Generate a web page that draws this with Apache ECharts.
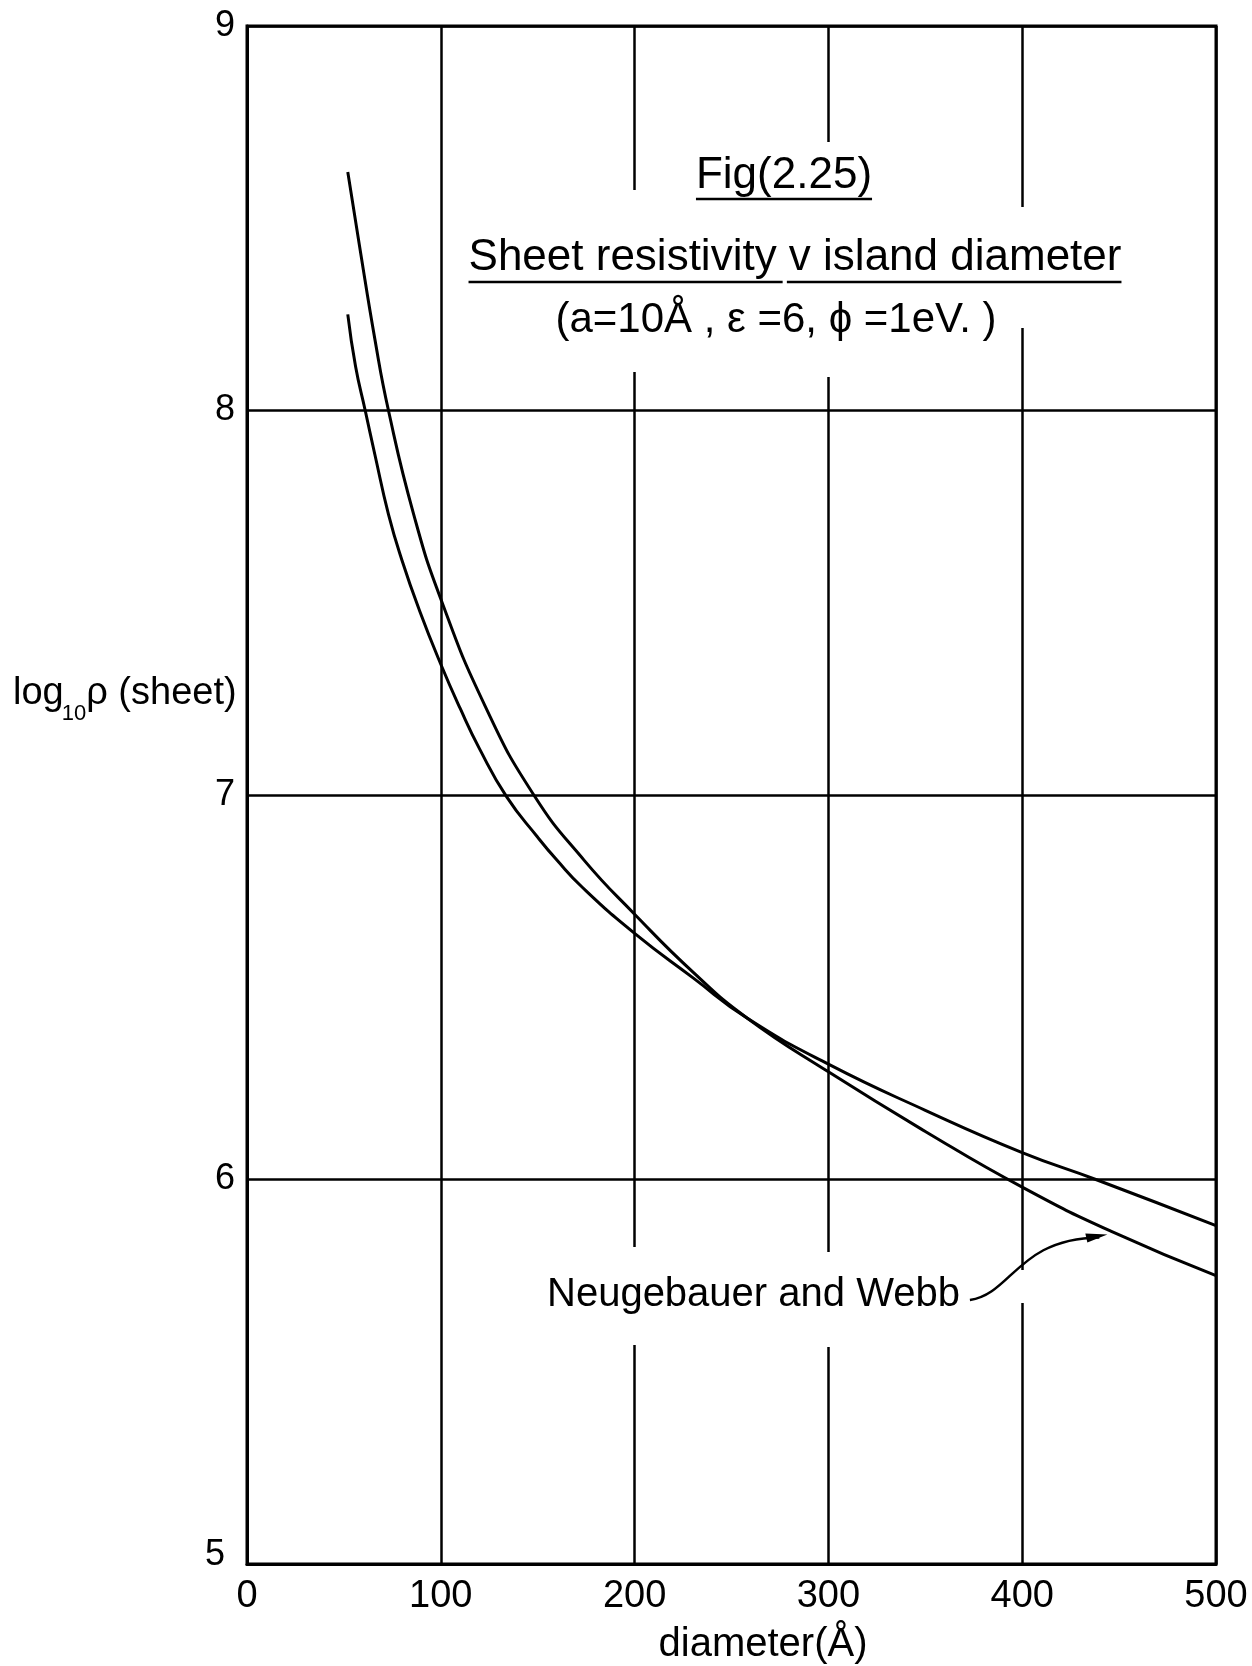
<!DOCTYPE html>
<html>
<head>
<meta charset="utf-8">
<title>Sheet resistivity v island diameter</title>
<script src="https://cdn.jsdelivr.net/npm/echarts@6/dist/echarts.min.js"></script>
<style>
  html, body { margin: 0; padding: 0; background: #fff; }
  #chart { width: 1252px; height: 1666px; }
</style>
</head>
<body>
<div id="chart"></div>
<script>
// Axis ticks
const xTicks = [0, 100, 200, 300, 400, 500];
const yTicks = [5, 6, 7, 8, 9];

// Neugebauer and Webb: diameter (Å) and log10 of sheet resistivity
const nwDiameter = [52, 58, 66, 73, 86, 100, 123, 148, 174, 200, 230, 258, 300, 350, 400, 446, 500];
const nwLogRho   = [8.62, 8.43, 8.185, 8.0, 7.73, 7.51, 7.23, 7.0, 6.83, 6.69, 6.54, 6.42, 6.28, 6.125, 5.98, 5.865, 5.75];

// Present calculation: diameter (Å) and log10 of sheet resistivity
const calcDiameter = [52, 56, 61, 66, 73, 80, 89, 100, 110, 120, 134, 150, 160, 173, 200, 230, 258, 300, 350, 400, 438, 500];
const calcLogRho   = [8.25, 8.115, 8.0, 7.885, 7.73, 7.61, 7.48, 7.34, 7.225, 7.12, 6.995, 6.89, 6.83, 6.76, 6.64, 6.525, 6.42, 6.30, 6.18, 6.07, 6.0, 5.88];

const ink = '#000';
const digitFont = '"Liberation Sans", Arial, sans-serif';
const textFont = '"Liberation Sans", Arial, sans-serif';

const chart = echarts.init(document.getElementById('chart'), null, { renderer: 'canvas' });

const pairs = (xs, ys) => xs.map((x, i) => [x, ys[i]]);

const option = {
  animation: false,
  backgroundColor: '#fff',
  grid: {
    left: 247, right: 36, top: 26, bottom: 102,
    show: true, borderColor: ink, borderWidth: 3
  },
  xAxis: {
    type: 'value',
    min: xTicks[0], max: xTicks[xTicks.length - 1], interval: xTicks[1] - xTicks[0],
    axisLine: { show: true, onZero: false, lineStyle: { color: ink, width: 3 } },
    axisTick: { show: false },
    axisLabel: { color: ink, fontSize: 38, fontFamily: digitFont, margin: 14 },
    splitLine: { show: true, lineStyle: { color: ink, width: 2.5 } }
  },
  yAxis: {
    type: 'value',
    min: yTicks[0], max: yTicks[yTicks.length - 1], interval: yTicks[1] - yTicks[0],
    axisLine: { show: true, onZero: false, lineStyle: { color: ink, width: 3 } },
    axisTick: { show: false },
    axisLabel: {
      color: ink, fontSize: 36, fontFamily: digitFont, margin: 12,
      formatter: v => (v === yTicks[0] ? '{low|' + v + '}' : String(v)),
      rich: { low: { color: ink, fontSize: 36, fontFamily: digitFont, padding: [0, 10, 18, 0] } }
    },
    splitLine: { show: true, lineStyle: { color: ink, width: 2.5 } }
  },
  series: [
    {
      name: 'Neugebauer and Webb', type: 'line', data: pairs(nwDiameter, nwLogRho),
      showSymbol: false, smooth: 0.5,
      lineStyle: { color: ink, width: 3 }, z: 5
    },
    {
      name: 'calculated', type: 'line', data: pairs(calcDiameter, calcLogRho),
      showSymbol: false, smooth: 0.5,
      lineStyle: { color: ink, width: 3 }, z: 5
    }
  ]
};
chart.setOption(option);

// ---- annotations drawn on top of the grid ----
const toPx = (x, y) => chart.convertToPixel({ gridIndex: 0 }, [x, y]);
const ctx = document.createElement('canvas').getContext('2d');
const measure = (text, font) => { ctx.font = font; return ctx.measureText(text).width; };

const g = [];

// breaks in the vertical grid lines around the lettering
const gridBreaks = [[200, 190, 372], [200, 1247, 1345], [300, 142, 377], [300, 1252, 1347], [400, 207, 328], [400, 1270, 1303]];
gridBreaks.forEach(([xv, y0, y1]) => {
  const cx = toPx(xv, yTicks[0])[0];
  g.push({ type: 'rect', z: 10, shape: { x: cx - 5, y: y0, width: 10, height: y1 - y0 }, style: { fill: '#fff' } });
});

function addText(text, x, y, size, align, font) {
  const f = size + 'px ' + (font || textFont);
  g.push({
    type: 'text', z: 20, x: x, y: y,
    style: { text: text, font: f, fill: ink, align: align || 'left', verticalAlign: 'middle',
             textAlign: align || 'left', textVerticalAlign: 'middle' }
  });
  return measure(text, f);
}
function addUnderline(x0, x1, y) {
  g.push({ type: 'line', z: 20, shape: { x1: x0, y1: y, x2: x1, y2: y }, style: { stroke: ink, lineWidth: 2.5 } });
}

// figure number
const figText = 'Fig(2.25)';
const figW = addText(figText, 784, 176, 44, 'center');
addUnderline(784 - figW / 2, 784 + figW / 2, 199);

// title, underlined in two parts
const t1 = 'Sheet resistivity', t2 = ' v island diameter';
const titleFont = '44px ' + textFont;
const w1 = measure(t1, titleFont), w2 = measure(t2, titleFont);
const titleLeft = 795 - (w1 + w2) / 2;
addText(t1 + t2, titleLeft, 258, 44, 'left');
addUnderline(titleLeft, titleLeft + w1 + 6, 282);
addUnderline(titleLeft + w1 + measure(' ', titleFont) - 2, titleLeft + w1 + w2, 282);

// parameters
addText('(a=10Å , ε =6, ϕ =1eV. )', 776, 320, 42, 'center');

// axis names
let lx = 13;
lx += addText('log', lx, 694, 38, 'left');
lx += addText('10', lx - 2, 714, 22, 'left') - 2;
addText('ρ (sheet)', lx, 694, 38, 'left');
addText('diameter(Å)', 763, 1645, 40, 'center');

// curve label with its leader
const labelW = addText('Neugebauer and Webb', 547, 1295, 40, 'left');
const tip = toPx(446, 5.865);
const sx = 547 + labelW + 10, sy = 1300;
const ex = tip[0] - 4, ey = tip[1] + 5;
g.push({
  type: 'bezierCurve', z: 20,
  shape: { x1: sx, y1: sy, cpx1: sx + 42, cpy1: sy - 6, cpx2: sx + 48, cpy2: ey + 2, x2: ex - 8, y2: ey + 1 },
  style: { stroke: ink, lineWidth: 2.5, fill: null }
});
g.push({
  type: 'polygon', z: 20,
  shape: { points: [[ex - 22, ey - 3], [ex, ey - 2], [ex - 20, ey + 6]] },
  style: { fill: ink }
});

chart.setOption({ graphic: g });
</script>
</body>
</html>
